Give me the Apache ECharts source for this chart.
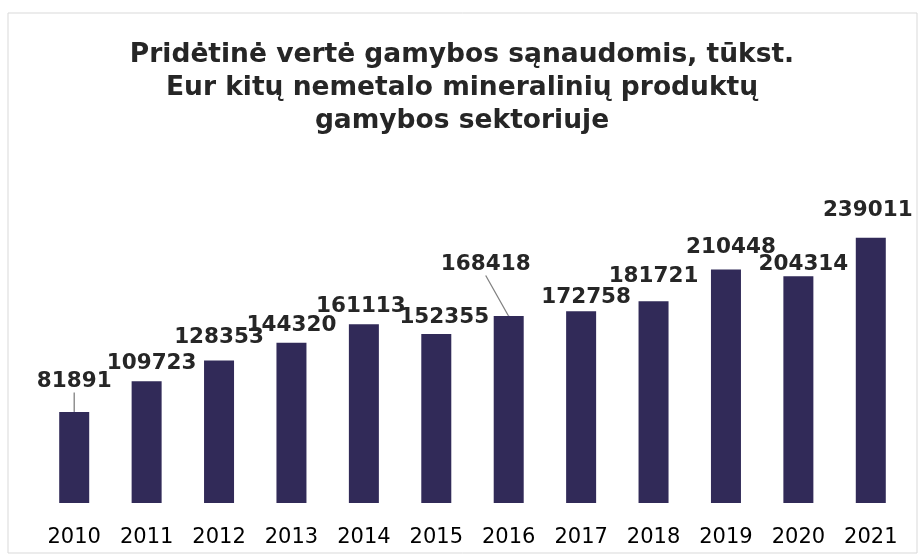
<!DOCTYPE html>
<html>
<head>
<meta charset="utf-8">
<script src="https://cdn.jsdelivr.net/npm/echarts@6/dist/echarts.min.js"></script>
<style>
  html, body { margin: 0; padding: 0; background: #fff; }
  #chart { width: 924px; height: 559px; }
</style>
</head>
<body>
<div id="chart"></div>
<script>
var years = ['2010', '2011', '2012', '2013', '2014', '2015', '2016', '2017', '2018', '2019', '2020', '2021'];
var values = [81891, 109723, 128353, 144320, 161113, 152355, 168418, 172758, 181721, 210448, 204314, 239011];
// label nudges (dx, dy) from the default "top" spot, as placed in the original
var labelShift = [[0, -14], [5, -2], [0, -7], [0, -1], [-3, -2], [8, 0], [-23, -35], [5, 2], [0, -9], [5, -6], [5, 4], [-3, -11]];
// labels that have a leader line back to the bar
var withLine = [0, 6];

var font = 'Verdana, "DejaVu Sans", sans-serif';
var labelStyle = {
    show: true,
    position: 'top',
    distance: 5,
    fontFamily: font,
    fontWeight: 'bold',
    fontSize: 21.5,
    color: '#262626'
};
function shiftLabel(params) {
    var s = labelShift[params.dataIndex];
    return { dx: s[0], dy: s[1] };
}

var chart = echarts.init(document.getElementById('chart'));
var option = {
    animation: false,
    backgroundColor: '#fff',
    graphic: [{
        type: 'rect',
        shape: { x: 8, y: 13, width: 909, height: 540 },
        style: { fill: 'none', stroke: '#d9d9d9', lineWidth: 1 },
        silent: true
    }],
    title: {
        text: 'Pridėtinė vertė gamybos sąnaudomis, tūkst.\nEur kitų nemetalo mineralinių produktų\ngamybos sektoriuje',
        left: 'center',
        top: 34,
        textStyle: {
            fontFamily: font,
            fontWeight: 'bold',
            fontSize: 26.5,
            lineHeight: 33,
            color: '#262626'
        }
    },
    grid: {
        left: 38,
        right: 17,
        top: 170,
        bottom: 56,
        containLabel: false
    },
    xAxis: {
        type: 'category',
        data: years,
        axisLine: { show: false },
        axisTick: { show: false },
        axisLabel: {
            margin: 24,
            fontFamily: font,
            fontSize: 21,
            color: '#000'
        }
    },
    yAxis: {
        type: 'value',
        min: 0,
        max: 300000,
        show: false,
        splitLine: { show: false }
    },
    series: [{
        type: 'bar',
        barWidth: 30,
        data: values.map(function (v, i) {
            return {
                value: v,
                label: { show: withLine.indexOf(i) < 0 }
            };
        }),
        itemStyle: { color: '#312a58' },
        label: labelStyle,
        labelLayout: shiftLabel
    }, {
        // anchor points at the bar tops so the leader lines end at the middle
        type: 'scatter',
        symbol: 'rect',
        symbolSize: 1,
        silent: true,
        itemStyle: { color: '#312a58', opacity: 1 },
        data: values.map(function (v, i) {
            return withLine.indexOf(i) >= 0 ? v : '-';
        }),
        label: labelStyle,
        labelLine: {
            show: true,
            lineStyle: { color: '#808080', width: 1.3, opacity: 1 }
        },
        labelLayout: shiftLabel
    }]
};
chart.setOption(option);
</script>
</body>
</html>
